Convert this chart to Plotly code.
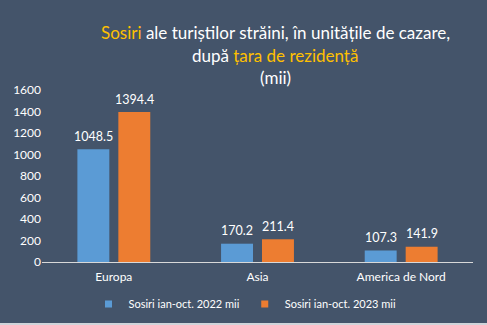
import plotly.graph_objects as go

categories = ["Europa", "Asia", "America de Nord"]
series_2022 = [1048.5, 170.2, 107.3]
series_2023 = [1394.4, 211.4, 141.9]
series_names = ["Sosiri ian-oct. 2022 mii", "Sosiri ian-oct. 2023 mii"]
y_ticks = [0, 200, 400, 600, 800, 1000, 1200, 1400, 1600]

BG = "#44546A"
BLUE = "#5B9BD5"
ORANGE = "#ED7D31"
GOLD = "#FFC000"
FONT = "Lato"

W, H = 487, 325
ML, MR, MT, MB = 42, 14, 90, 63
PH = H - MT - MB

fig = go.Figure()
for name, vals, col in [(series_names[0], series_2022, BLUE), (series_names[1], series_2023, ORANGE)]:
    fig.add_trace(go.Bar(x=categories, y=vals, name=name, marker_color=col, marker_line_width=0,
                         showlegend=False))
for name, col in [(series_names[0], BLUE), (series_names[1], ORANGE)]:
    fig.add_trace(go.Scatter(x=[None], y=[None], mode="markers", name=name,
                             marker=dict(symbol="square", size=7, color=col)))

annotations = []
for vals, dx in [(series_2022, -20.5), (series_2023, 20.5)]:
    for c, v in zip(categories, vals):
        annotations.append(dict(x=c, y=v, xref="x", yref="y", text=f"{v:.1f}", showarrow=False,
                                xshift=dx, yshift=13, yanchor="middle",
                                font=dict(color="white", size=12.5, family=FONT)))

title_lines = [
    f"<span style='color:{GOLD}'>Sosiri</span> ale turiștilor străini, în unitățile de cazare,",
    f"după <span style='color:{GOLD}'>țara de rezidență</span>",
    "(mii)",
]
for line, yc in zip(title_lines, [32, 55, 77]):
    annotations.append(dict(x=(275 - ML) / (W - ML - MR), y=(H - MB - yc) / PH, xref="paper", yref="paper",
                            text=line, showarrow=False, xanchor="center", yanchor="middle",
                            font=dict(color="white", size=17, family=FONT)))

fig.update_layout(
    width=W, height=H,
    paper_bgcolor=BG, plot_bgcolor=BG,
    margin=dict(l=ML, r=MR, t=MT, b=MB, autoexpand=False),
    barmode="group", bargap=0.43, bargroupgap=0.22,
    font=dict(family=FONT, color="white", size=12),
    showlegend=True,
    legend=dict(orientation="h", x=(245 - ML) / (W - ML - MR), xanchor="center", y=-42 / PH, yanchor="middle",
                font=dict(color="white", size=11, family=FONT), itemwidth=30,
                bgcolor="rgba(0,0,0,0)"),
    xaxis=dict(showgrid=False, showline=True, linecolor="#D9D9D9", linewidth=1,
               tickfont=dict(color="white", size=12, family=FONT), ticks="", ticklabelstandoff=4),
    yaxis=dict(range=[0, 1600], tickvals=y_ticks, showgrid=False, zeroline=False,
               showline=False, tickfont=dict(color="white", size=12, family=FONT), ticks=""),
    annotations=annotations,
    shapes=[dict(type="rect", xref="paper", yref="paper", x0=-0.2, x1=1.2,
                 y0=-(MB + 2) / PH, y1=-(MB - 2) / PH,
                 fillcolor="#D0D4DA", line_width=0, layer="above")],
)

fig.write_html("out.html")
